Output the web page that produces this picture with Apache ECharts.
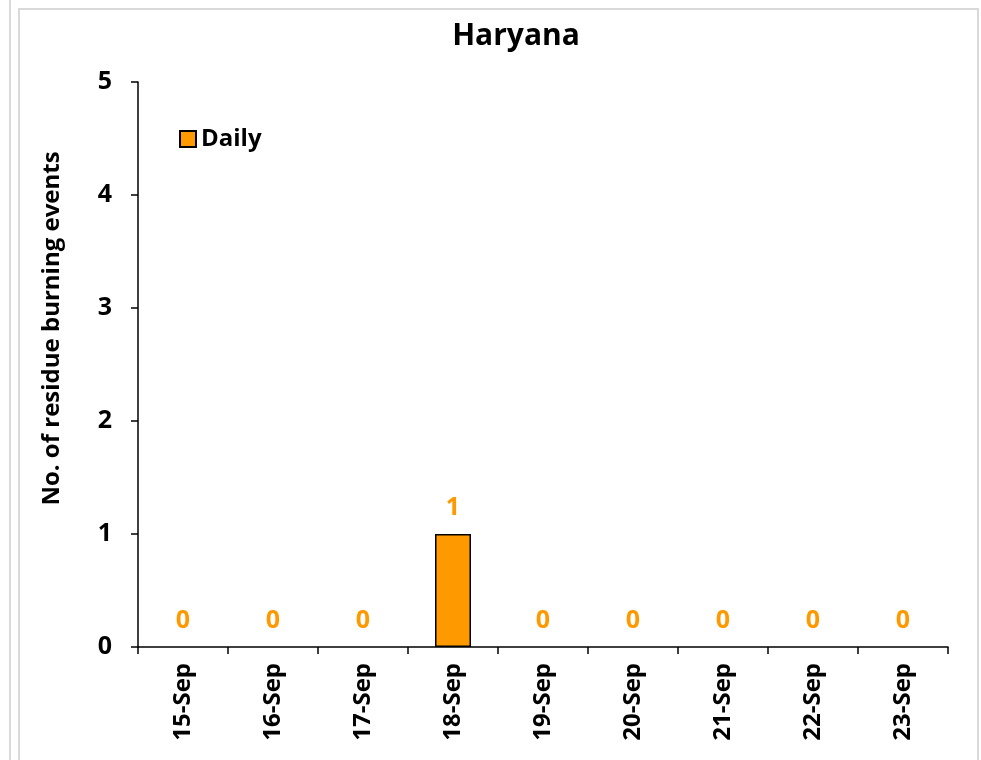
<!DOCTYPE html>
<html>
<head>
<meta charset="utf-8">
<script src="https://cdn.jsdelivr.net/npm/echarts@6/dist/echarts.min.js"></script>
<style>
  html, body { margin: 0; padding: 0; background: #fff; }
  #chart { width: 981px; height: 760px; }
</style>
</head>
<body>
<div id="chart"></div>
<script>
const categories = ["15-Sep", "16-Sep", "17-Sep", "18-Sep", "19-Sep", "20-Sep", "21-Sep", "22-Sep", "23-Sep"];
const dailyEvents = [0, 0, 0, 1, 0, 0, 0, 0, 0];
const yTicks = { min: 0, max: 5, interval: 1 };

const font = "'Open Sans', sans-serif";
const chart = echarts.init(document.getElementById("chart"));

// zero bars get no border so they don't thicken the axis line
const barData = dailyEvents.map(v => ({
  value: v,
  itemStyle: { borderWidth: v === 0 ? 0 : 1.5 }
}));

const option = {
  backgroundColor: "#fff",
  animation: false,
  title: {
    text: "Haryana",
    left: 511,
    textAlign: "center",
    top: 16,
    textStyle: { fontFamily: font, fontSize: 30, fontWeight: "bold", color: "#000" }
  },
  // frame around the chart
  graphic: [
    { type: "rect", shape: { x: 19, y: 9, width: 959, height: 770 },
      style: { fill: null, stroke: "#d9d9d9", lineWidth: 2 } },
    { type: "line", shape: { x1: 10, y1: 0, x2: 10, y2: 760 },
      style: { stroke: "#d9d9d9", lineWidth: 2 } }
  ],
  legend: {
    left: 174,
    top: 122,
    itemWidth: 16,
    itemHeight: 16,
    itemGap: 6,
    icon: "rect",
    textStyle: { fontFamily: font, fontSize: 24, fontWeight: "bold", color: "#000" },
    data: ["Daily"]
  },
  grid: { left: 138, right: 33, top: 82, bottom: 113 },
  xAxis: {
    type: "category",
    data: categories,
    axisLine: { lineStyle: { color: "#000", width: 1.5 } },
    axisTick: { show: true, alignWithLabel: false, length: 7, lineStyle: { color: "#000", width: 1.5 } },
    axisLabel: {
      rotate: 90,
      margin: 16,
      fontFamily: font, fontSize: 24, fontWeight: "bold", color: "#000"
    }
  },
  yAxis: {
    type: "value",
    min: yTicks.min,
    max: yTicks.max,
    interval: yTicks.interval,
    name: "No. of residue burning events",
    nameLocation: "middle",
    nameGap: 74,
    nameTextStyle: {
      fontFamily: font, fontSize: 24, fontWeight: "bold", color: "#000",
      padding: [0, 0, 0, 72]
    },
    axisLine: { show: true, lineStyle: { color: "#000", width: 1.5 } },
    axisTick: { show: true, length: 7, lineStyle: { color: "#000", width: 1.5 } },
    splitLine: { show: false },
    axisLabel: { margin: 26, fontFamily: font, fontSize: 25, fontWeight: "bold", color: "#000" }
  },
  series: [
    {
      name: "Daily",
      type: "bar",
      data: barData,
      barWidth: 36,
      itemStyle: { color: "#FF9900", borderColor: "#000", borderWidth: 1.5 },
      label: {
        show: true,
        position: "top",
        distance: 14,
        fontFamily: font, fontSize: 25, fontWeight: "bold", color: "#FF9900"
      }
    }
  ]
};

chart.setOption(option);
</script>
</body>
</html>
